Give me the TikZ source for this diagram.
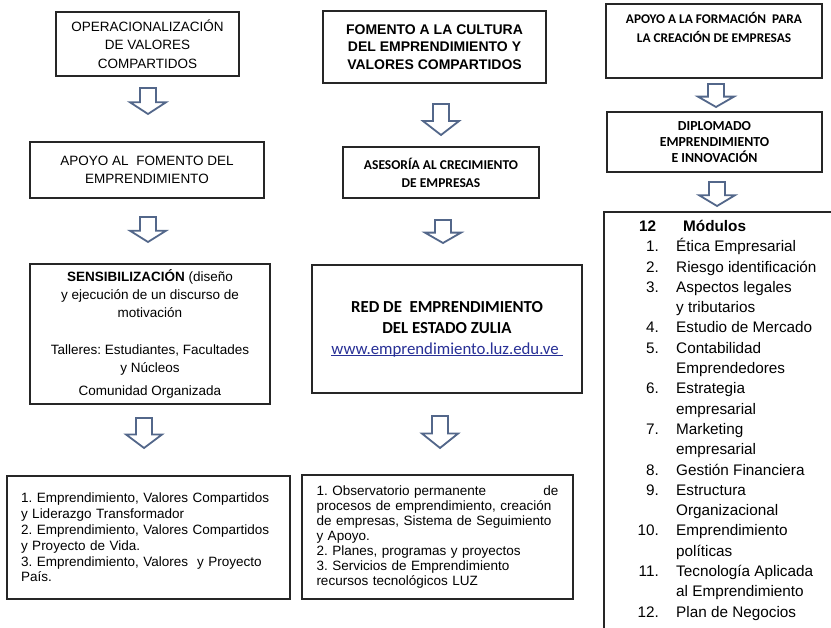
\documentclass[tikz,border=0pt]{standalone}
\usepackage{fontspec}
\setmainfont{Liberation Sans}
\newfontfamily\calibri{Carlito}
\usepackage{tikz}
\frenchspacing

\definecolor{flechaazul}{RGB}{83,103,138}
\definecolor{enlace}{RGB}{40,48,150}

\newcommand{\tam}[2]{\fontsize{#1}{#2}\selectfont}
\newcommand{\subraya}[1]{\setbox0=\hbox{#1\ }\rlap{\rule[-1.8pt]{\wd0}{0.7pt}}\box0}

\tikzset{
  caja/.style={draw=black!85, line width=1.8pt, fill=white, inner sep=0pt, align=center},
  flecha/.style={draw=flechaazul, line width=1.8pt, fill=white, line join=miter},
  lista/.style={inner sep=0pt, font=\tam{15.3}{20}},
}

\begin{document}
\begin{tikzpicture}[x=1pt, y=-1pt]
\useasboundingbox (0,0) rectangle (831,628);
\clip (0,0) rectangle (831,628);

%columna 1
\begin{scope}[every node/.append style={font=\tam{13.5}{18.5}}]
  \node[caja, minimum width=183, minimum height=64] (a1) at (147.5,44)
    {OPERACIONALIZACIÓN\\ DE VALORES\\ COMPARTIDOS};
  \node[caja, minimum width=234, minimum height=56] (a2) at (147,170)
    {APOYO AL\ \ FOMENTO DEL\\ EMPRENDIMIENTO};
  \node[caja, minimum width=240, minimum height=140, font=\tam{13.5}{18}] (a3) at (150,334)
    {\textbf{SENSIBILIZACIÓN} (diseño\\ y ejecución de un discurso de\\ motivación\\[19pt]
     Talleres: Estudiantes, Facultades\\ y Núcleos\\[5pt] Comunidad Organizada};
  \node[caja, minimum width=283, minimum height=123, text width=255, align=left,
        font=\tam{13.5}{15.8}] (a4) at (148.5,537.5)
    {1. Emprendimiento, Valores Compartidos\\ y Liderazgo Transformador\\
     2. Emprendimiento, Valores Compartidos\\ y Proyecto de Vida.\\
     3. Emprendimiento, Valores\ \ y Proyecto\\ País.};
\end{scope}

%columna 2
\node[caja, minimum width=223, minimum height=72, font=\bfseries\tam{14}{17.5}] (b1) at (434.5,47)
  {FOMENTO A LA CULTURA\\ DEL EMPRENDIMIENTO Y\\ VALORES COMPARTIDOS};
\node[caja, minimum width=196, minimum height=51, font=\calibri\bfseries\tam{13.5}{18}] (b2) at (441,172.5)
  {ASESORÍA AL CRECIMIENTO\\ DE EMPRESAS};
\node[caja, minimum width=270, minimum height=128, font=\calibri\bfseries\tam{16.8}{21}] (b3) at (447,329)
  {RED DE\ \ EMPRENDIMIENTO\\ DEL ESTADO ZULIA\\
   {\mdseries\color{enlace}\subraya{www.emprendimiento.luz.edu.ve}}};
\node[caja, minimum width=271, minimum height=124, text width=242, align=left,
      font=\tam{13.5}{15}] (b4) at (437.5,537)
  {1. Observatorio permanente\hskip0pt plus 1filll de\\ procesos de emprendimiento, creación\\
   de empresas, Sistema de Seguimiento\\ y Apoyo.\\ 2. Planes, programas y proyectos\\
   3. Servicios de Emprendimiento\\ recursos tecnológicos LUZ};

%columna 3
\node[caja, minimum width=216, minimum height=74, font=\calibri\bfseries\tam{13.3}{19}] (c1) at (714,41)
  {APOYO A LA FORMACIÓN\ \ PARA\\ LA CREACIÓN DE EMPRESAS\\[8pt]\mbox{}};
\node[caja, minimum width=215, minimum height=60, font=\calibri\bfseries\tam{13.8}{16}] (c2) at (714.5,142)
  {DIPLOMADO\\ EMPRENDIMIENTO\\ E INNOVACIÓN};
\node[caja, minimum width=237, minimum height=429, anchor=north west] (c3) at (603,211) {};

\node[lista, font=\bfseries\tam{15.3}{20}, anchor=base west] (n0) at (639,231.5) {12};
\node[lista, font=\bfseries\tam{15.3}{20}, anchor=base west] (m0) at (683,231.5) {Módulos};
\foreach \n/\t [count=\i] in {1./Ética Empresarial, 2./Riesgo identificación,
    3./Aspectos legales, /y tributarios, 4./Estudio de Mercado, 5./Contabilidad,
    /Emprendedores, 6./Estrategia, /empresarial, 7./Marketing, /empresarial,
    8./Gestión Financiera, 9./Estructura, /Organizacional, 10./Emprendimiento,
    /políticas, 11./Tecnología Aplicada, /al Emprendimiento, 12./Plan de Negocios} {
  \node[lista, anchor=base east] (n\i) at (659,231.5+20.3*\i) {\n};
  \node[lista, anchor=base west] (m\i) at (676,231.5+20.3*\i) {\t};
}

%flechas
\foreach \x/\ya/\yb in {148/88/114, 148/217/242, 144/418/448, 441/104/135,
                         443/220/243, 440/416/448, 716/84/107, 717/182/206}
  \draw[flecha] (\x-8,\ya) -- (\x+8,\ya) -- (\x+8,{\yb-0.45*(\yb-\ya)})
    -- (\x+18,{\yb-0.45*(\yb-\ya)}) -- (\x,\yb) -- (\x-18,{\yb-0.45*(\yb-\ya)})
    -- (\x-8,{\yb-0.45*(\yb-\ya)}) -- cycle;
\end{tikzpicture}
\end{document}
